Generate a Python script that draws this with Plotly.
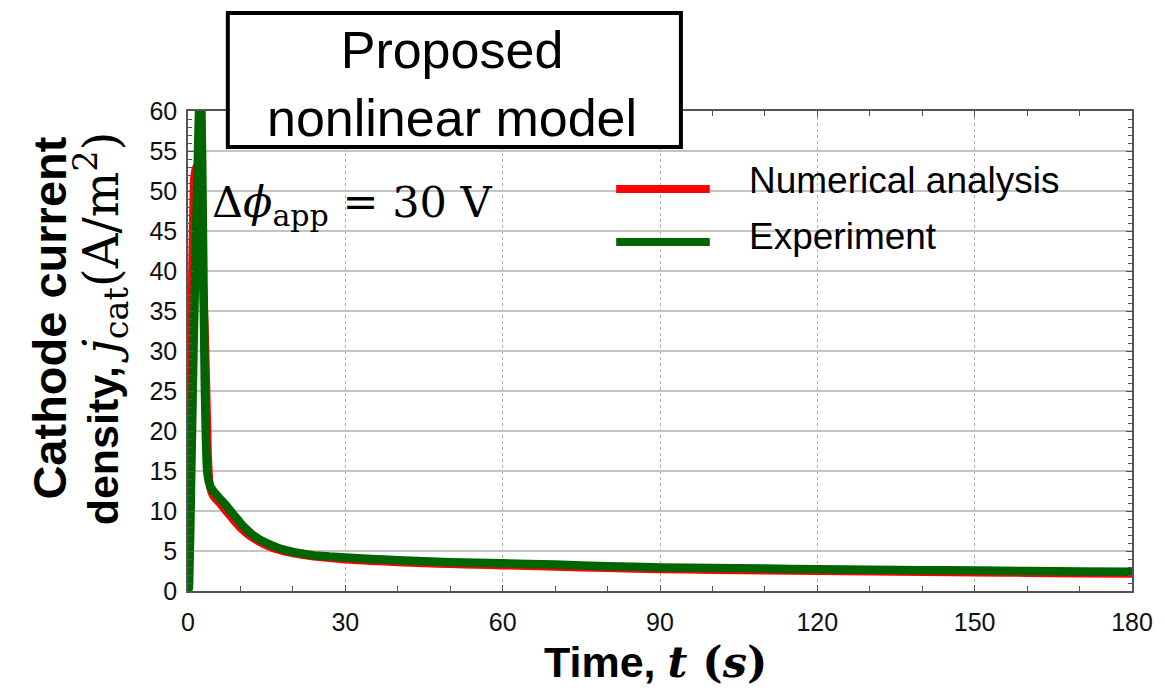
import plotly.graph_objects as go

# Time axis (s) and cathode current density (A/m^2) for each series
t_num = [0, 0.2, 0.5, 0.8, 1.1, 1.4, 1.7, 2.0, 2.5, 2.9, 3.2, 3.5, 3.8, 4.1, 4.5,
         5, 6, 7, 8, 9, 10, 11, 12, 14, 16, 18, 20, 24, 30, 35, 40, 45, 50, 55, 60, 70, 80,
         90, 100, 110, 120, 130, 140, 150, 160, 170, 180]
j_num = [0, 6, 22, 40, 51, 53, 51, 48, 43, 38, 33, 25, 17, 13.6, 12.3,
         11.7, 11.0, 10.2, 9.4, 8.6, 7.9, 7.3, 6.8, 6.0, 5.4, 5.0, 4.7, 4.3, 3.95, 3.75, 3.6, 3.47, 3.36, 3.28, 3.2, 3.03, 2.87,
         2.72, 2.64, 2.57, 2.5, 2.44, 2.38, 2.32, 2.26, 2.2, 2.15]

t_exp = [0, 0.2, 0.6, 1.1, 1.4, 1.8, 2.1, 2.4, 2.7, 3.0, 3.2, 3.4, 3.6, 3.8, 4.0, 4.3, 4.7,
         5.2, 6, 7, 8, 9, 10, 11, 12, 13, 14, 16, 18, 20, 22, 24, 27, 30, 35, 40, 45, 50, 55,
         60, 70, 80, 90, 100, 110, 120, 130, 140, 150, 160, 170, 180]
j_exp = [0, 0.5, 14, 32, 40, 52, 60, 66, 54, 36, 26, 19.5, 15.5, 14.3, 13.6, 13.0, 12.6,
         12.2, 11.6, 10.9, 10.1, 9.3, 8.5, 7.8, 7.2, 6.7, 6.3, 5.7, 5.2, 4.9, 4.65, 4.45, 4.3, 4.2, 4.0, 3.85, 3.72, 3.6, 3.53,
         3.46, 3.3, 3.1, 2.94, 2.87, 2.8, 2.73, 2.67, 2.6, 2.56, 2.5, 2.45, 2.4]

series_names = ["Numerical analysis", "Experiment"]
series_colors = ["#ff0000", "#006400"]

x_ticks = [0, 30, 60, 90, 120, 150, 180]
y_ticks = list(range(0, 61, 5))

W, H = 1165, 692
L, R, T, B = 188, 29, 111, 101
PW, PH = W - L - R, H - T - B


def px_x(p):
    return (p - L) / PW


def px_y(p):
    return (H - B - p) / PH


SANS = "Liberation Sans, Arial, sans-serif"
SERIF = "DejaVu Serif, Liberation Serif, serif"

fig = go.Figure()
fig.add_trace(go.Scatter(x=t_num, y=j_num, mode="lines", name=series_names[0],
                         line=dict(color=series_colors[0], width=8, shape="spline", smoothing=0.2)))
fig.add_trace(go.Scatter(x=t_exp, y=j_exp, mode="lines", name=series_names[1],
                         line=dict(color=series_colors[1], width=8.5, shape="spline", smoothing=0.2)))

axis_common = dict(
    showline=True, linecolor="#555555", linewidth=1.5, mirror="ticks",
    ticks="inside", ticklen=6, tickcolor="#555555",
    tickfont=dict(family=SANS, size=25, color="#111111"),
    zeroline=False,
)
fig.update_xaxes(range=[0, 180], tickvals=x_ticks, showgrid=True,
                 gridcolor="#b0b0b0", griddash="dot", gridwidth=1.2,
                 minor=dict(dtick=10, ticks="inside", ticklen=5, tickcolor="#555555", showgrid=False),
                 ticklabelstandoff=8, **axis_common)
fig.update_yaxes(range=[0, 60], tickvals=y_ticks, showgrid=True,
                 gridcolor="#c4c4c4", gridwidth=1.5,
                 minor=dict(dtick=1, ticks="inside", ticklen=4, tickcolor="#555555", showgrid=False),
                 ticklabelstandoff=4, **axis_common)

shapes = []
annotations = []

# legend drawn as long line samples with labels
for name, color, ypix, ytxt in zip(series_names, series_colors, [189, 242], [180, 237]):
    shapes.append(dict(type="line", xref="paper", yref="paper",
                       x0=px_x(618), x1=px_x(712), y0=px_y(ypix), y1=px_y(ypix),
                       line=dict(color=color, width=8)))
    annotations.append(dict(xref="paper", yref="paper", x=px_x(749), y=px_y(ytxt),
                            xanchor="left", yanchor="middle", showarrow=False,
                            text=name, font=dict(family=SANS, size=37, color="black")))

# model label box
shapes.append(dict(type="rect", xref="paper", yref="paper",
                   x0=px_x(228), x1=px_x(683), y0=px_y(147), y1=px_y(13),
                   line=dict(color="black", width=4), fillcolor="white", layer="above"))
annotations.append(dict(xref="paper", yref="paper", x=px_x(453), y=px_y(84),
                        xanchor="center", yanchor="middle", showarrow=False,
                        text="Proposed<br>nonlinear model",
                        font=dict(family=SANS, size=52, color="black")))

# applied potential label
annotations.append(dict(xref="paper", yref="paper", x=px_x(210), y=px_y(205),
                        xanchor="left", yanchor="middle", showarrow=False,
                        text="Δ<i>ϕ</i><sub>app</sub> = 30 V",
                        font=dict(family=SERIF, size=43, color="black")))

# axis titles
annotations.append(dict(xref="paper", yref="paper", x=px_x(657), y=px_y(662),
                        xanchor="center", yanchor="middle", showarrow=False,
                        text=f"<b>Time, </b><span style='font-family:{SERIF}'><b><i>t</i> (<i>s</i>)</b></span>",
                        font=dict(family=SANS, size=43, color="black")))
annotations.append(dict(xref="paper", yref="paper", x=px_x(48), y=px_y(318),
                        xanchor="center", yanchor="middle", showarrow=False, textangle=-90,
                        text="<b>Cathode current</b>",
                        font=dict(family=SANS, size=47, color="black")))
annotations.append(dict(xref="paper", yref="paper", x=px_x(100), y=px_y(328),
                        xanchor="center", yanchor="middle", showarrow=False, textangle=-90,
                        text=(f"<b>density, </b><span style='font-family:{SERIF};font-size:48px'>"
                              "<i>j</i><sub>cat</sub>(A/m<sup>2</sup>)</span>"),
                        font=dict(family=SANS, size=43, color="black")))

fig.update_layout(
    width=W, height=H, autosize=False,
    margin=dict(l=L, r=R, t=T, b=B),
    plot_bgcolor="white", paper_bgcolor="white",
    showlegend=False,
    shapes=shapes, annotations=annotations,
)

fig.write_html("out.html")
